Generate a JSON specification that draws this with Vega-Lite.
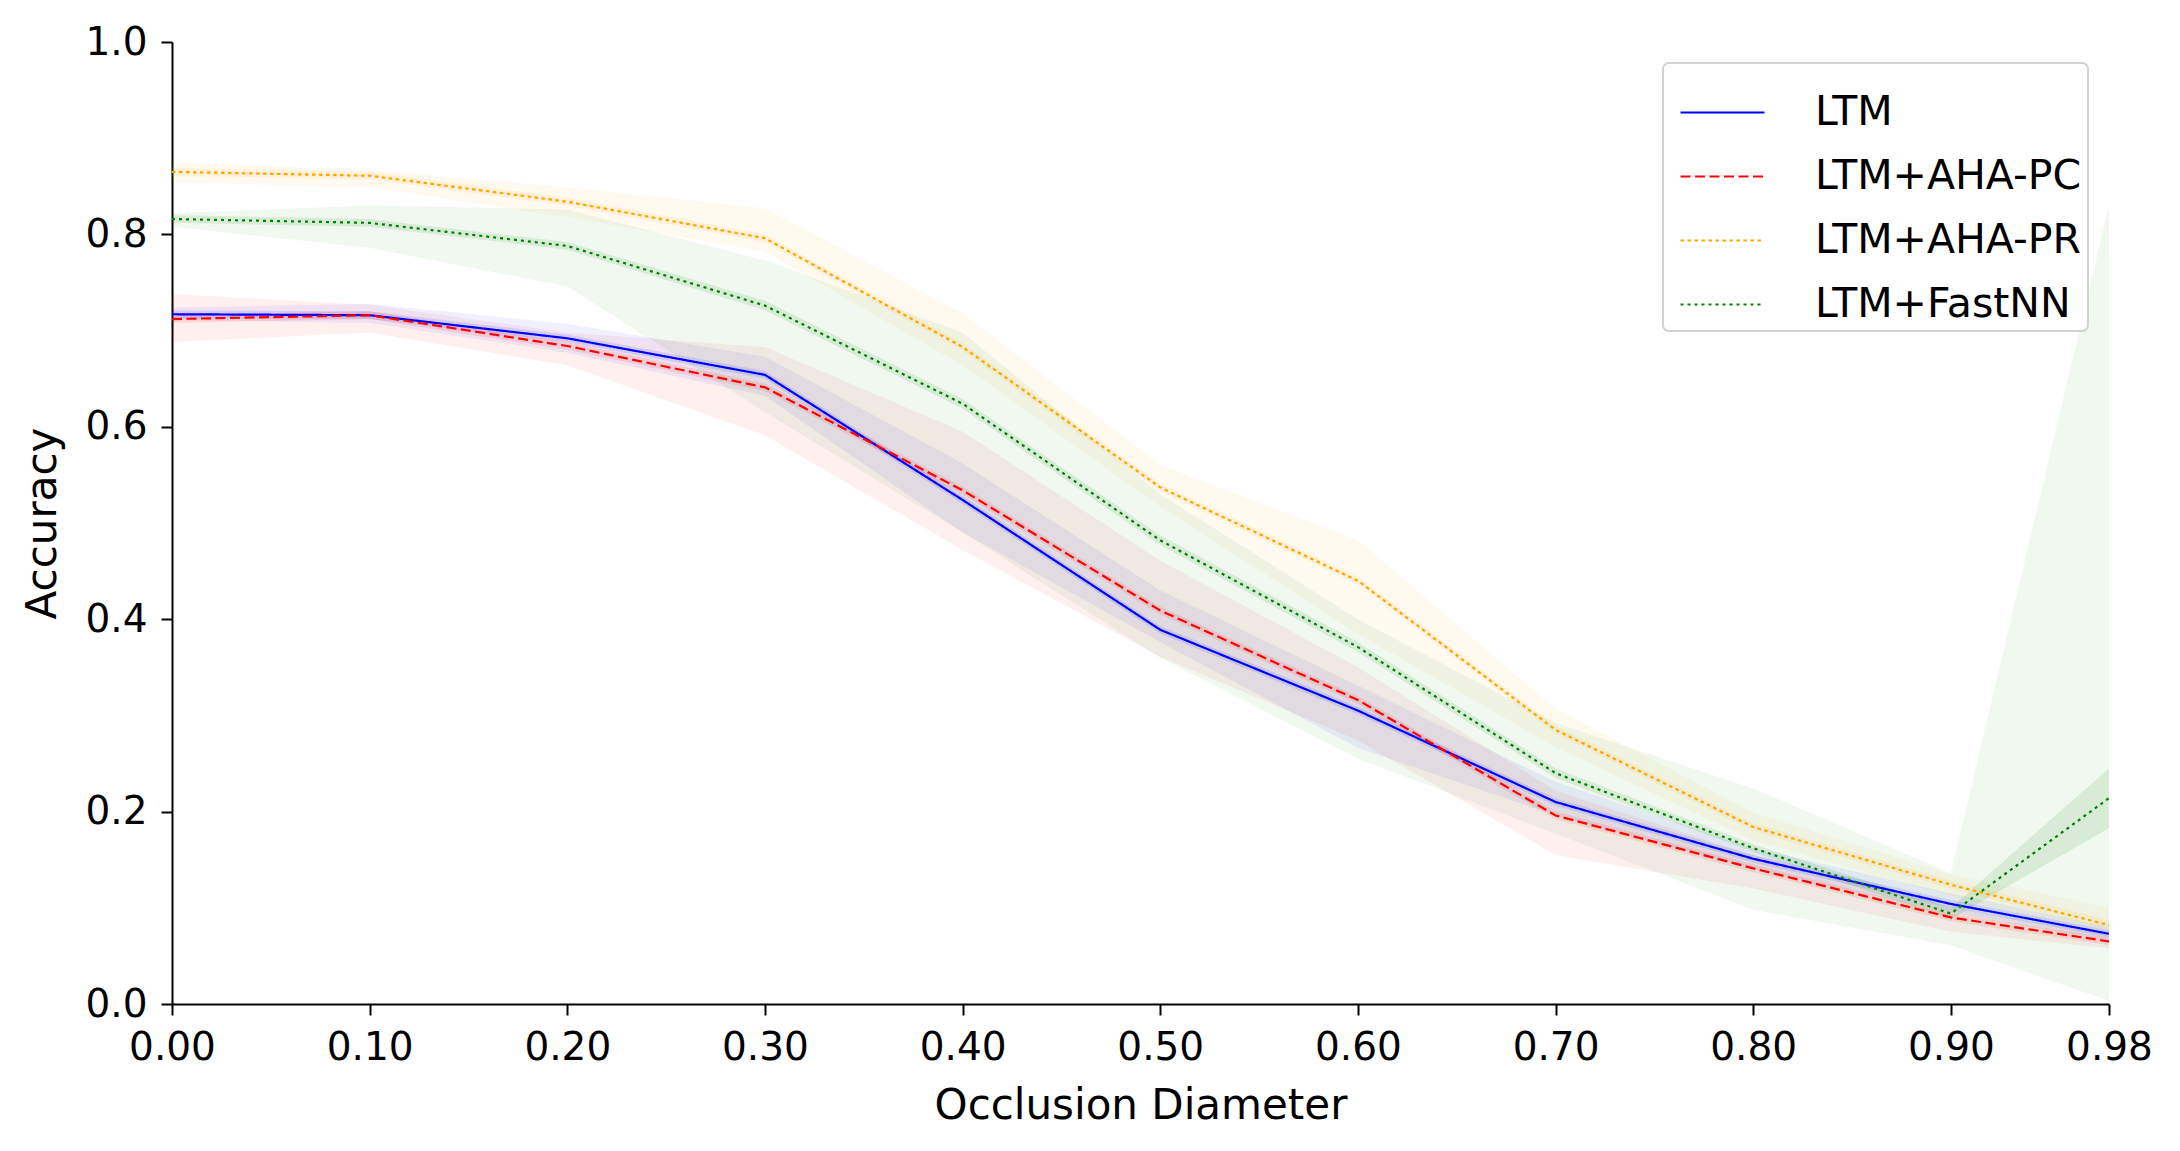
{
  "$schema": "https://vega.github.io/schema/vega-lite/v6.json",
  "autosize": {"type": "none"},
  "padding": {"left": 172, "top": 42, "right": 71, "bottom": 147},
  "width": 1937,
  "height": 962,
  "background": "white",
  "config": {
    "view": {"stroke": null},
    "font": "DejaVu Sans",
    "axis": {
      "grid": false,
      "domainColor": "black",
      "domainWidth": 2,
      "tickColor": "black",
      "tickWidth": 2,
      "tickSize": 11,
      "labelFont": "DejaVu Sans",
      "labelFontSize": 39,
      "labelColor": "black",
      "titleFont": "DejaVu Sans",
      "titleFontSize": 42,
      "titleFontWeight": "normal",
      "titleColor": "black",
      "labelOverlap": false,
      "labelFlush": false
    },
    "legend": {
      "padding": 6,
      "symbolType": "stroke",
      "symbolSize": 7056,
      "symbolStrokeWidth": 2.2,
      "symbolOffset": 10,
      "labelFont": "DejaVu Sans",
      "labelFontSize": 41,
      "labelColor": "black",
      "labelOffset": 49,
      "labelLimit": 600,
      "rowPadding": -4,
      "strokeColor": "#d2d2d2",
      "strokeWidth": 2,
      "fillColor": "rgba(255,255,255,0.85)",
      "cornerRadius": 6
    }
  },
  "data": {
    "values": [
      {"series": "LTM", "x": 0.0, "y": 0.717, "lo": 0.711, "hi": 0.724, "lo2": 0.713, "hi2": 0.721},
      {"series": "LTM", "x": 0.1, "y": 0.716, "lo": 0.708, "hi": 0.728, "lo2": 0.712, "hi2": 0.720},
      {"series": "LTM", "x": 0.2, "y": 0.692, "lo": 0.677, "hi": 0.707, "lo2": 0.688, "hi2": 0.696},
      {"series": "LTM", "x": 0.3, "y": 0.654, "lo": 0.632, "hi": 0.673, "lo2": 0.650, "hi2": 0.658},
      {"series": "LTM", "x": 0.4, "y": 0.524, "lo": 0.490, "hi": 0.562, "lo2": 0.520, "hi2": 0.528},
      {"series": "LTM", "x": 0.5, "y": 0.389, "lo": 0.376, "hi": 0.430, "lo2": 0.385, "hi2": 0.393},
      {"series": "LTM", "x": 0.6, "y": 0.305, "lo": 0.266, "hi": 0.331, "lo2": 0.301, "hi2": 0.309},
      {"series": "LTM", "x": 0.7, "y": 0.210, "lo": 0.196, "hi": 0.231, "lo2": 0.206, "hi2": 0.214},
      {"series": "LTM", "x": 0.8, "y": 0.151, "lo": 0.140, "hi": 0.162, "lo2": 0.147, "hi2": 0.155},
      {"series": "LTM", "x": 0.9, "y": 0.104, "lo": 0.095, "hi": 0.115, "lo2": 0.100, "hi2": 0.108},
      {"series": "LTM", "x": 0.98, "y": 0.073, "lo": 0.066, "hi": 0.080, "lo2": 0.069, "hi2": 0.077},

      {"series": "LTM+AHA-PC", "x": 0.0, "y": 0.712, "lo": 0.688, "hi": 0.738, "lo2": 0.708, "hi2": 0.716},
      {"series": "LTM+AHA-PC", "x": 0.1, "y": 0.716, "lo": 0.698, "hi": 0.727, "lo2": 0.712, "hi2": 0.720},
      {"series": "LTM+AHA-PC", "x": 0.2, "y": 0.684, "lo": 0.664, "hi": 0.698, "lo2": 0.680, "hi2": 0.688},
      {"series": "LTM+AHA-PC", "x": 0.3, "y": 0.641, "lo": 0.591, "hi": 0.683, "lo2": 0.637, "hi2": 0.645},
      {"series": "LTM+AHA-PC", "x": 0.4, "y": 0.534, "lo": 0.472, "hi": 0.595, "lo2": 0.530, "hi2": 0.538},
      {"series": "LTM+AHA-PC", "x": 0.5, "y": 0.409, "lo": 0.361, "hi": 0.461, "lo2": 0.405, "hi2": 0.413},
      {"series": "LTM+AHA-PC", "x": 0.6, "y": 0.316, "lo": 0.274, "hi": 0.350, "lo2": 0.312, "hi2": 0.320},
      {"series": "LTM+AHA-PC", "x": 0.7, "y": 0.196, "lo": 0.155, "hi": 0.222, "lo2": 0.192, "hi2": 0.200},
      {"series": "LTM+AHA-PC", "x": 0.8, "y": 0.141, "lo": 0.120, "hi": 0.155, "lo2": 0.137, "hi2": 0.145},
      {"series": "LTM+AHA-PC", "x": 0.9, "y": 0.090, "lo": 0.075, "hi": 0.100, "lo2": 0.086, "hi2": 0.094},
      {"series": "LTM+AHA-PC", "x": 0.98, "y": 0.065, "lo": 0.058, "hi": 0.072, "lo2": 0.061, "hi2": 0.069},

      {"series": "LTM+AHA-PR", "x": 0.0, "y": 0.865, "lo": 0.854, "hi": 0.875, "lo2": 0.861, "hi2": 0.869},
      {"series": "LTM+AHA-PR", "x": 0.1, "y": 0.861, "lo": 0.849, "hi": 0.867, "lo2": 0.857, "hi2": 0.865},
      {"series": "LTM+AHA-PR", "x": 0.2, "y": 0.834, "lo": 0.818, "hi": 0.849, "lo2": 0.830, "hi2": 0.838},
      {"series": "LTM+AHA-PR", "x": 0.3, "y": 0.796, "lo": 0.782, "hi": 0.827, "lo2": 0.792, "hi2": 0.800},
      {"series": "LTM+AHA-PR", "x": 0.4, "y": 0.683, "lo": 0.664, "hi": 0.718, "lo2": 0.679, "hi2": 0.687},
      {"series": "LTM+AHA-PR", "x": 0.5, "y": 0.537, "lo": 0.517, "hi": 0.560, "lo2": 0.533, "hi2": 0.541},
      {"series": "LTM+AHA-PR", "x": 0.6, "y": 0.440, "lo": 0.385, "hi": 0.482, "lo2": 0.436, "hi2": 0.444},
      {"series": "LTM+AHA-PR", "x": 0.7, "y": 0.285, "lo": 0.267, "hi": 0.307, "lo2": 0.281, "hi2": 0.289},
      {"series": "LTM+AHA-PR", "x": 0.8, "y": 0.184, "lo": 0.170, "hi": 0.199, "lo2": 0.180, "hi2": 0.188},
      {"series": "LTM+AHA-PR", "x": 0.9, "y": 0.124, "lo": 0.112, "hi": 0.135, "lo2": 0.120, "hi2": 0.128},
      {"series": "LTM+AHA-PR", "x": 0.98, "y": 0.082, "lo": 0.070, "hi": 0.100, "lo2": 0.077, "hi2": 0.087},

      {"series": "LTM+FastNN", "x": 0.0, "y": 0.816, "lo": 0.808, "hi": 0.822, "lo2": 0.812, "hi2": 0.820},
      {"series": "LTM+FastNN", "x": 0.1, "y": 0.812, "lo": 0.786, "hi": 0.830, "lo2": 0.808, "hi2": 0.816},
      {"series": "LTM+FastNN", "x": 0.2, "y": 0.788, "lo": 0.746, "hi": 0.826, "lo2": 0.784, "hi2": 0.792},
      {"series": "LTM+FastNN", "x": 0.3, "y": 0.726, "lo": 0.615, "hi": 0.773, "lo2": 0.721, "hi2": 0.731},
      {"series": "LTM+FastNN", "x": 0.4, "y": 0.624, "lo": 0.490, "hi": 0.698, "lo2": 0.619, "hi2": 0.629},
      {"series": "LTM+FastNN", "x": 0.5, "y": 0.482, "lo": 0.360, "hi": 0.530, "lo2": 0.477, "hi2": 0.487},
      {"series": "LTM+FastNN", "x": 0.6, "y": 0.371, "lo": 0.255, "hi": 0.400, "lo2": 0.366, "hi2": 0.376},
      {"series": "LTM+FastNN", "x": 0.7, "y": 0.240, "lo": 0.177, "hi": 0.292, "lo2": 0.235, "hi2": 0.245},
      {"series": "LTM+FastNN", "x": 0.8, "y": 0.162, "lo": 0.098, "hi": 0.224, "lo2": 0.158, "hi2": 0.166},
      {"series": "LTM+FastNN", "x": 0.9, "y": 0.094, "lo": 0.061, "hi": 0.136, "lo2": 0.088, "hi2": 0.100},
      {"series": "LTM+FastNN", "x": 0.98, "y": 0.214, "lo": 0.003, "hi": 0.830, "lo2": 0.183, "hi2": 0.245}
    ]
  },
  "encoding": {
    "x": {
      "field": "x",
      "type": "quantitative",
      "scale": {"domain": [0, 0.98], "nice": false, "zero": false},
      "axis": {
        "title": "Occlusion Diameter",
        "values": [0, 0.1, 0.2, 0.3, 0.4, 0.5, 0.6, 0.7, 0.8, 0.9, 0.98],
        "format": ".2f",
        "labelPadding": 13,
        "titlePadding": 18
      }
    }
  },
  "layer": [
    {
      "mark": {"type": "area", "fillOpacity": 0.06},
      "encoding": {
        "y": {"field": "lo", "type": "quantitative", "scale": {"domain": [0, 1], "nice": false}, "axis": {"title": "Accuracy", "values": [0, 0.2, 0.4, 0.6, 0.8, 1.0], "format": ".1f", "labelPadding": 14, "titlePadding": 20}},
        "y2": {"field": "hi"},
        "fill": {
          "field": "series",
          "type": "nominal",
          "scale": {"domain": ["LTM+FastNN", "LTM+AHA-PR", "LTM+AHA-PC", "LTM"], "range": ["#008000", "#ffa500", "#ff0000", "#0000ff"]},
          "legend": null
        }
      }
    },
    {
      "mark": {"type": "area", "fillOpacity": 0.1},
      "encoding": {
        "y": {"field": "lo2", "type": "quantitative"},
        "y2": {"field": "hi2"},
        "fill": {
          "field": "series",
          "type": "nominal",
          "scale": {"domain": ["LTM+FastNN", "LTM+AHA-PR", "LTM+AHA-PC", "LTM"], "range": ["#008000", "#ffa500", "#ff0000", "#0000ff"]},
          "legend": null
        }
      }
    },
    {
      "mark": {"type": "line", "strokeWidth": 2.2},
      "encoding": {
        "y": {"field": "y", "type": "quantitative"},
        "color": {
          "field": "series",
          "type": "nominal",
          "scale": {"domain": ["LTM", "LTM+AHA-PC", "LTM+AHA-PR", "LTM+FastNN"], "range": ["#0000ff", "#ff0000", "#ffa500", "#008000"]},
          "legend": {"title": null, "orient": "top-right", "offset": 21}
        },
        "strokeDash": {
          "field": "series",
          "type": "nominal",
          "scale": {"domain": ["LTM", "LTM+AHA-PC", "LTM+AHA-PR", "LTM+FastNN"], "range": [[1, 0], [10, 4.5], [3.5, 3.5], [3, 4]]},
          "legend": {"title": null, "orient": "top-right", "offset": 21}
        }
      }
    }
  ]
}
